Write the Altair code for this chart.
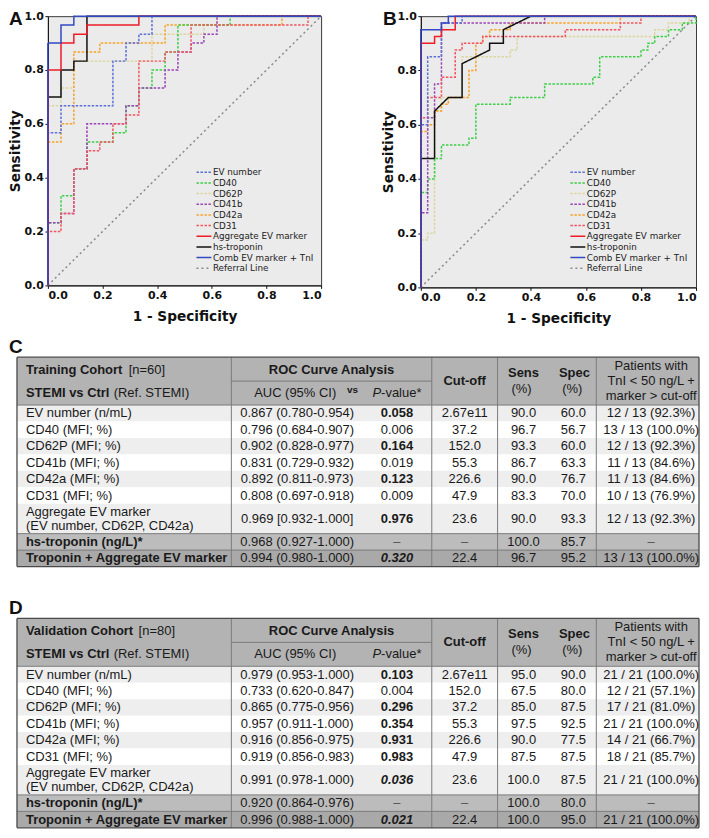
import altair as alt
import pandas as pd

# ---------------- ROC curves: (1 - specificity, sensitivity) ----------------
SERIES = ["EV number", "CD40", "CD62P", "CD41b", "CD42a", "CD31",
          "Aggregate EV marker", "hs-troponin", "Comb EV marker + TnI", "Referral Line"]
COLORS = ["#5b70d8", "#3ccf48", "#dcd69c", "#9a44b6", "#f6a32b", "#f25560",
          "#ee1d27", "#111111", "#3349c2", "#8a8a8a"]
DASHES = [[2.5, 1.5]] * 6 + [[1, 0]] * 3 + [[2, 3]]
WIDTHS = [1.5] * 6 + [2.6] * 3 + [1.2]
DRAW_ORDER = ["Referral Line", "CD62P", "CD42a", "CD40", "CD41b", "CD31", "EV number",
              "hs-troponin", "Aggregate EV marker", "Comb EV marker + TnI"]

REFERRAL = [(0, 0), (1, 1)]

A_EV = [(0, 0), (0, .567), (.048, .567), (.048, .667), (.238, .667), (.238, .833), (.286, .833),
        (.286, .9), (.333, .9), (.333, .933), (.381, .933), (.381, 1), (1, 1)]
A_CD40 = [(0, 0), (0, .233), (.048, .233), (.048, .333), (.095, .333), (.095, .433), (.143, .433),
          (.143, .533), (.238, .533), (.238, .567), (.286, .567), (.286, .667), (.333, .667),
          (.333, .733), (.381, .733), (.381, .8), (.429, .8), (.429, .867), (.476, .867),
          (.476, .967), (.667, .967), (.667, 1), (1, 1)]
A_CD62P = [(0, 0), (0, .667), (.048, .667), (.048, .733), (.095, .733), (.095, .833), (.381, .833),
           (.381, .933), (.571, .933), (.571, .967), (.619, .967), (.619, 1), (1, 1)]
A_CD41B = [(0, 0), (0, .233), (.048, .233), (.048, .267), (.095, .267), (.095, .433), (.143, .433),
           (.143, .6), (.286, .6), (.286, .667), (.333, .667), (.333, .733), (.429, .733),
           (.429, .8), (.476, .8), (.476, .867), (.524, .867), (.524, .9), (.571, .9),
           (.571, .933), (.619, .933), (.619, 1), (1, 1)]
A_CD42A = [(0, 0), (0, .533), (.048, .533), (.048, .6), (.095, .6), (.095, .867), (.19, .867),
           (.19, .9), (.429, .9), (.429, .967), (.857, .967), (.857, 1), (1, 1)]
A_CD31 = [(0, 0), (0, .2), (.048, .2), (.048, .267), (.095, .267), (.095, .433), (.143, .433),
          (.143, .5), (.19, .5), (.19, .533), (.238, .533), (.238, .6), (.286, .6), (.286, .633),
          (.333, .633), (.333, .833), (.429, .833), (.429, .867), (.524, .867), (.524, .967),
          (.952, .967), (.952, 1), (1, 1)]
A_AGG = [(0, 0), (0, .8), (.048, .8), (.048, .9), (.095, .9), (.095, .933), (.143, .933),
         (.143, .967), (.333, .967), (.333, 1), (1, 1)]
A_TROP = [(0, 0), (0, .7), (.048, .7), (.048, .8), (.095, .8), (.095, .833), (.143, .833),
          (.143, 1), (1, 1)]
A_COMB = [(0, 0), (0, .9), (.048, .9), (.048, .967), (.095, .967), (.095, 1), (1, 1)]

B_EV = [(0, 0), (0, .6), (.025, .6), (.025, .85), (.075, .85), (.075, .975), (.15, .975),
        (.15, 1), (1, 1)]
B_CD40 = [(0, 0), (0, .35), (.025, .35), (.025, .4), (.05, .4), (.05, .475), (.075, .475),
          (.075, .525), (.175, .525), (.175, .55), (.2, .55), (.2, .675), (.325, .675),
          (.325, .7), (.45, .7), (.45, .75), (.625, .75), (.625, .775), (.65, .775), (.65, .85),
          (.8, .85), (.8, .875), (.825, .875), (.825, .9), (.85, .9), (.85, .925), (.9, .925),
          (.9, .95), (.95, .95), (.95, .975), (1, .975), (1, 1)]
B_CD62P = [(0, 0), (0, .175), (.025, .175), (.025, .2), (.05, .2), (.05, .65), (.075, .65),
           (.075, .7), (.15, .7), (.15, .85), (.325, .85), (.325, .875), (.35, .875),
           (.35, .925), (.85, .925), (.85, .95), (.9, .95), (.9, .975), (.975, .975),
           (.975, 1), (1, 1)]
B_CD41B = [(0, 0), (0, .275), (.025, .275), (.025, .625), (.05, .625), (.05, .75), (.075, .75),
           (.075, .975), (.45, .975), (.45, 1), (1, 1)]
B_CD42A = [(0, 0), (0, .575), (.025, .575), (.025, .6), (.05, .6), (.05, .65), (.075, .65),
           (.075, .675), (.1, .675), (.1, .7), (.175, .7), (.175, .8), (.2, .8), (.2, .9),
           (.225, .9), (.225, .925), (.25, .925), (.25, .95), (.325, .95), (.325, .975),
           (.725, .975), (.725, 1), (1, 1)]
B_CD31 = [(0, 0), (0, .625), (.025, .625), (.025, .7), (.075, .7), (.075, .775), (.125, .775),
          (.125, .875), (.15, .875), (.15, .9), (.225, .9), (.225, .925), (.525, .925),
          (.525, .95), (.725, .95), (.725, .975), (.8, .975), (.8, 1), (1, 1)]
B_AGG = [(0, 0), (0, .9), (.05, .9), (.05, .925), (.075, .925), (.075, .95), (.125, .95),
         (.125, 1), (1, 1)]
B_TROP = [(0, 0), (0, .475), (.05, .475), (.05, .65), (.1, .7), (.15, .7), (.15, .825),
          (.25, .875), (.25, .9), (.3, .9), (.3, .95), (.4, 1), (1, 1)]
B_COMB = [(0, 0), (0, .95), (.075, .95), (.075, .975), (.1, .975), (.1, 1), (1, 1)]

# ---------------- tables ----------------
ROW_LABELS = ["EV number (n/mL)", "CD40 (MFI; %)", "CD62P (MFI; %)", "CD41b (MFI; %)",
              "CD42a (MFI; %)", "CD31 (MFI; %)", "Aggregate EV marker|(EV number, CD62P, CD42a)",
              "hs-troponin (ng/L)*", "Troponin + Aggregate EV marker"]

C_AUC = ["0.867 (0.780-0.954)", "0.796 (0.684-0.907)", "0.902 (0.828-0.977)", "0.831 (0.729-0.932)",
         "0.892 (0.811-0.973)", "0.808 (0.697-0.918)", "0.969 [0.932-1.000]", "0.968 (0.927-1.000)",
         "0.994 (0.980-1.000)"]
C_P = ["0.058", "0.006", "0.164", "0.019", "0.123", "0.009", "0.976", "–", "0.320"]
C_P_STYLE = ["b", "n", "b", "n", "b", "n", "b", "n", "bi"]
C_CUT = ["2.67e11", "37.2", "152.0", "55.3", "226.6", "47.9", "23.6", "–", "22.4"]
C_SENS = ["90.0", "96.7", "93.3", "86.7", "90.0", "83.3", "90.0", "100.0", "96.7"]
C_SPEC = ["60.0", "56.7", "60.0", "63.3", "76.7", "70.0", "93.3", "85.7", "95.2"]
C_PAT = ["12 / 13 (92.3%)", "13 / 13 (100.0%)", "12 / 13 (92.3%)", "11 / 13 (84.6%)",
         "11 / 13 (84.6%)", "10 / 13 (76.9%)", "12 / 13 (92.3%)", "–", "13 / 13 (100.0%)"]

D_AUC = ["0.979 (0.953-1.000)", "0.733 (0.620-0.847)", "0.865 (0.775-0.956)", "0.957 (0.911-1.000)",
         "0.916 (0.856-0.975)", "0.919 (0.856-0.983)", "0.991 (0.978-1.000)", "0.920 (0.864-0.976)",
         "0.996 (0.988-1.000)"]
D_P = ["0.103", "0.004", "0.296", "0.354", "0.931", "0.983", "0.036", "–", "0.021"]
D_P_STYLE = ["b", "n", "b", "b", "b", "b", "bi", "n", "bi"]
D_CUT = ["2.67e11", "152.0", "37.2", "55.3", "226.6", "47.9", "23.6", "–", "22.4"]
D_SENS = ["95.0", "67.5", "85.0", "97.5", "90.0", "87.5", "100.0", "100.0", "100.0"]
D_SPEC = ["90.0", "80.0", "87.5", "92.5", "77.5", "87.5", "87.5", "80.0", "95.0"]
D_PAT = ["21 / 21 (100.0%)", "12 / 21 (57.1%)", "17 / 21 (81.0%)", "21 / 21 (100.0%)",
         "14 / 21 (66.7%)", "18 / 21 (85.7%)", "21 / 21 (100.0%)", "–", "21 / 21 (100.0%)"]

# ---------------- layout (reference pixel positions) ----------------
OX, OY = 47, 14          # page position of panel A plot area's top-left corner
W_A, H_A = 274, 270
W_B, H_B = 276, 272
GAP_AB = 100
TBL_L, TBL_R = 16, 700
VLINES = [231, 432, 498, 597]
X_LAB, X_AUC, X_P, X_CUT, X_SENS, X_SPEC, X_PAT = 25, 297, 397, 465, 524, 574, 652
HDR1, HDR2, ROW, AGG = 24, 24, 16.5, 30
TOP_C, TOP_D = 356, 618
ROW_FILLS = ["#eeeeee", "#ffffff", "#eeeeee", "#ffffff", "#eeeeee", "#ffffff", "#eeeeee",
             "#bcbcbc", "#a9a9a9"]
HDR_FILL = "#b3b3b3"
LINE_C = "#7a7a7a"

rects, rules, texts = [], [], []


def R(x, y):
    return x - OX, y - OY


def add_text(x, y, t, style, color="#1a1a1a"):
    lx, ly = R(x, y)
    texts.append({"x": lx, "y": ly, "t": t, "s": style, "c": color})


def add_rect(x1, x2, y1, y2, fill):
    a, b = R(x1, y1)
    c, d = R(x2, y2)
    rects.append({"x": a, "x2": c, "y": b, "y2": d, "fill": fill})


def add_rule(x1, y1, x2, y2, color, w):
    a, b = R(x1, y1)
    c, d = R(x2, y2)
    rules.append({"x": a, "x2": c, "y": b, "y2": d, "c": color, "w": w})


def build_table(top, title_b, title_n, title_off, auc, pv, pvs, cut, sens, spec, pat, vs):
    hb = top + HDR1 + HDR2
    add_rect(TBL_L, TBL_R, top, hb, HDR_FILL)
    heights = [ROW] * 6 + [AGG, ROW, ROW]
    y = hb
    centers = []
    for h, f in zip(heights, ROW_FILLS):
        add_rect(TBL_L, TBL_R, y, y + h, f)
        centers.append(y + h / 2)
        y += h
    bottom = y
    for vx in VLINES:
        add_rule(vx, top, vx, bottom, LINE_C, 1)
    add_rule(VLINES[0], top + HDR1, VLINES[1], top + HDR1, LINE_C, 1)
    add_rule(TBL_L, hb, TBL_R, hb, LINE_C, 1)
    add_rule(TBL_L, centers[7] - ROW / 2, TBL_R, centers[7] - ROW / 2, LINE_C, 1)
    add_rule(TBL_L, centers[8] - ROW / 2, TBL_R, centers[8] - ROW / 2, LINE_C, 1)
    for (x1, y1, x2, y2) in [(TBL_L, top, TBL_R, top), (TBL_L, bottom, TBL_R, bottom),
                             (TBL_L, top, TBL_L, bottom), (TBL_R, top, TBL_R, bottom)]:
        add_rule(x1, y1, x2, y2, "#4a4a4a", 1.3)
    r1, r2 = top + HDR1 / 2 + 1, top + HDR1 + HDR2 / 2
    hm = top + (HDR1 + HDR2) / 2
    add_text(X_LAB, r1, title_b, "LB")
    add_text(X_LAB + title_off, r1, title_n, "L")
    add_text(X_LAB, r2, "STEMI vs Ctrl", "LB")
    add_text(X_LAB + 88, r2, "(Ref. STEMI)", "L")
    add_text((VLINES[0] + VLINES[1]) / 2, r1, "ROC Curve Analysis", "CB")
    add_text(295, r2, "AUC (95% CI)", "C")
    if vs:
        add_text(347, r2 - 3, "vs", "VS")
    add_text(372.5, r2, "P", "LI")
    add_text(381.2, r2, "-value*", "L")
    add_text(X_CUT, hm, "Cut-off", "CB")
    add_text(X_SENS, hm - 8, "Sens", "CB")
    add_text(X_SENS - 2, hm + 8, "(%)", "C")
    add_text(X_SPEC + 1, hm - 8, "Spec", "CB")
    add_text(X_SPEC - 1, hm + 8, "(%)", "C")
    add_text(X_PAT, hm - 15, "Patients with", "C")
    add_text(X_PAT, hm, "TnI < 50 ng/L +", "C")
    add_text(X_PAT, hm + 15, "marker > cut-off", "C")
    pmap = {"b": "CB", "n": "C", "bi": "CBI"}
    for i, cy in enumerate(centers):
        lab = ROW_LABELS[i]
        if "|" in lab:
            l1, l2 = lab.split("|")
            add_text(X_LAB, cy - 7, l1, "L")
            add_text(X_LAB, cy + 7, l2, "L")
        else:
            add_text(X_LAB, cy, lab, "LB" if i >= 7 else "L")
        add_text(X_AUC, cy, auc[i], "C")
        dash_c = "#555555"
        add_text(X_P, cy, pv[i], pmap[pvs[i]], dash_c if pv[i] == "–" else "#1a1a1a")
        add_text(X_CUT, cy, cut[i], "C", dash_c if cut[i] == "–" else "#1a1a1a")
        add_text(X_SENS, cy, sens[i], "C")
        add_text(X_SPEC, cy, spec[i], "C")
        add_text(X_PAT, cy, pat[i], "C", dash_c if pat[i] == "–" else "#1a1a1a")


build_table(TOP_C, "Training Cohort", "[n=60]", 103, C_AUC, C_P, C_P_STYLE, C_CUT, C_SENS,
            C_SPEC, C_PAT, True)
build_table(TOP_D, "Validation Cohort", "[n=80]", 113, D_AUC, D_P, D_P_STYLE, D_CUT, D_SENS,
            D_SPEC, D_PAT, False)

# panel letters (top-anchored)
add_text(8, 8, "A", "LET", "#111111")
add_text(383, 8, "B", "LET", "#111111")
add_text(8, 337, "C", "LET", "#111111")
add_text(8, 599, "D", "LET", "#111111")

TFONT = "Liberation Sans"
STYLES = {
    "L": dict(align="left", fontWeight="normal", fontStyle="normal", fontSize=13, baseline="middle"),
    "LB": dict(align="left", fontWeight="bold", fontStyle="normal", fontSize=13, baseline="middle"),
    "LI": dict(align="left", fontWeight="normal", fontStyle="italic", fontSize=13, baseline="middle"),
    "C": dict(align="center", fontWeight="normal", fontStyle="normal", fontSize=13, baseline="middle"),
    "CB": dict(align="center", fontWeight="bold", fontStyle="normal", fontSize=13, baseline="middle"),
    "CBI": dict(align="center", fontWeight="bold", fontStyle="italic", fontSize=13, baseline="middle"),
    "VS": dict(align="left", fontWeight="bold", fontStyle="normal", fontSize=10, baseline="middle"),
    "LET": dict(align="left", fontWeight="bold", fontStyle="normal", fontSize=19, baseline="top"),
}

px_x = alt.Scale(domain=[0, W_A], nice=False, zero=False)
px_y = alt.Scale(domain=[H_A, 0], nice=False, zero=False)

rect_df = pd.DataFrame(rects)
rule_df = pd.DataFrame(rules)
text_df = pd.DataFrame(texts)

rect_layer = alt.Chart(rect_df).mark_rect().encode(
    x=alt.X("x:Q", scale=px_x, axis=None), x2="x2:Q",
    y=alt.Y("y:Q", scale=px_y, axis=None), y2="y2:Q",
    fill=alt.Fill("fill:N", scale=None))

rule_layers = []
for w in sorted(rule_df["w"].unique()):
    rule_layers.append(
        alt.Chart(rule_df[rule_df["w"] == w]).mark_rule(strokeWidth=float(w)).encode(
            x=alt.X("x:Q", scale=px_x, axis=None), x2="x2:Q",
            y=alt.Y("y:Q", scale=px_y, axis=None), y2="y2:Q",
            stroke=alt.Stroke("c:N", scale=None)))

text_layers = []
for key, st in STYLES.items():
    sub = text_df[text_df["s"] == key]
    if len(sub) == 0:
        continue
    text_layers.append(
        alt.Chart(sub).mark_text(font=TFONT, **st).encode(
            x=alt.X("x:Q", scale=px_x, axis=None),
            y=alt.Y("y:Q", scale=px_y, axis=None),
            text="t:N", color=alt.Color("c:N", scale=None)))


def roc_frame(curves):
    rows = []
    for name in DRAW_ORDER:
        for i, (fx, ty) in enumerate(curves[name]):
            rows.append({"series": name, "fpr": fx, "tpr": ty, "idx": i})
    return pd.DataFrame(rows)


curves_a = dict(zip(SERIES, [A_EV, A_CD40, A_CD62P, A_CD41B, A_CD42A, A_CD31, A_AGG, A_TROP,
                             A_COMB, REFERRAL]))
curves_b = dict(zip(SERIES, [B_EV, B_CD40, B_CD62P, B_CD41B, B_CD42A, B_CD31, B_AGG, B_TROP,
                             B_COMB, REFERRAL]))

TICKS = [0, 0.2, 0.4, 0.6, 0.8, 1.0]


def roc_chart(df, w, h, lx, ly):
    leg = alt.Legend(title=None, orient="none", legendX=lx, legendY=ly,
                     symbolType="M-2,0L2,0", symbolSize=56, labelFont="DejaVu Sans",
                     labelFontSize=8.8, labelColor="#222222", rowPadding=0.7,
                     labelOffset=4.5, padding=0)
    return alt.Chart(df).mark_line(strokeJoin="miter").encode(
        x=alt.X("fpr:Q", scale=alt.Scale(domain=[0, 1], nice=False),
                axis=alt.Axis(values=TICKS, format=".1f", title="1 - Specificity")),
        y=alt.Y("tpr:Q", scale=alt.Scale(domain=[0, 1], nice=False),
                axis=alt.Axis(values=TICKS, format=".1f", title="Sensitivity")),
        color=alt.Color("series:N", scale=alt.Scale(domain=SERIES, range=COLORS), legend=leg),
        strokeDash=alt.StrokeDash("series:N", scale=alt.Scale(domain=SERIES, range=DASHES),
                                  legend=leg),
        strokeWidth=alt.StrokeWidth("series:N", scale=alt.Scale(domain=SERIES, range=WIDTHS),
                                    legend=leg),
        order=alt.Order("idx:Q"),
    ).properties(width=w, height=h)


roc_a = roc_chart(roc_frame(curves_a), W_A, H_A, 152.0, 152.0)
roc_b = roc_chart(roc_frame(curves_b), W_B, H_B, 153.0, 152.0)

panel_a = alt.layer(roc_a, rect_layer, *rule_layers, *text_layers).resolve_scale(
    x="independent", y="independent")

chart = alt.hconcat(panel_a, roc_b, spacing=GAP_AB, bounds="flush").resolve_scale(
    color="independent", strokeDash="independent", strokeWidth="independent"
).properties(padding=0).configure_view(
    fill="#ebebeb", stroke="#3a3a3a", strokeWidth=1
).configure_axis(
    labelFont="DejaVu Sans", labelFontWeight="bold", labelFontSize=11, labelColor="#111111",
    titleFont="DejaVu Sans", titleFontWeight="bold", titleFontSize=13.7, titleColor="#111111",
    tickSize=3, tickColor="#111111", domainColor="#111111", grid=False, labelPadding=1.5
).configure_axisX(titlePadding=9).configure_axisY(titlePadding=1)

chart.save("out.html", embed_options={"renderer": "svg", "actions": False})
